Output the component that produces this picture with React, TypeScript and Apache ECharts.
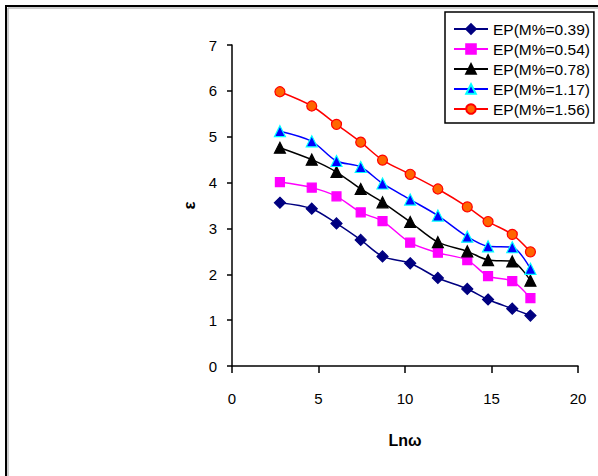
import React, { useEffect, useRef } from "react";
import * as echarts from "echarts";

const xVals = [2.77, 4.61, 6.04, 7.44, 8.7, 10.3, 11.9, 13.6, 14.8, 16.2, 17.25];
const s039 = [3.56, 3.43, 3.11, 2.75, 2.39, 2.24, 1.92, 1.68, 1.45, 1.25, 1.1];
const s054 = [4.01, 3.89, 3.7, 3.35, 3.16, 2.69, 2.47, 2.31, 1.96, 1.85, 1.48];
const s078 = [4.76, 4.5, 4.23, 3.86, 3.57, 3.14, 2.7, 2.5, 2.31, 2.28, 1.86];
const s117 = [5.12, 4.9, 4.47, 4.34, 3.98, 3.63, 3.28, 2.82, 2.61, 2.59, 2.12];
const s156 = [5.98, 5.67, 5.27, 4.88, 4.49, 4.18, 3.86, 3.47, 3.15, 2.87, 2.49];
const names = ["EP(M%=0.39)", "EP(M%=0.54)", "EP(M%=0.78)", "EP(M%=1.17)", "EP(M%=1.56)"];
const xTicks = [0, 5, 10, 15, 20];

const FONT = "'Liberation Sans', Arial, sans-serif";

export default function App() {
  const ref = useRef<HTMLDivElement>(null);
  useEffect(() => {
    const chart = echarts.init(ref.current!, null, { renderer: "svg" });
    const pair = (ys: number[]) => xVals.map((x, i) => [x, ys[i]]);
    const mk = (
      name: string,
      ys: number[],
      lineColor: string,
      symbol: string,
      size: number,
      fill: string,
      border: string
    ) => ({
      name,
      type: "line",
      data: pair(ys),
      smooth: 0.3,
      symbol,
      symbolSize: size,
      lineStyle: { color: lineColor, width: 1.5 },
      itemStyle: { color: fill, borderColor: border, borderWidth: 1.2 },
      z: 3,
    });
    chart.setOption({
      animation: false,
      backgroundColor: "#fff",
      textStyle: { fontFamily: FONT },
      grid: { left: 232, right: 20, top: 45, bottom: 110, containLabel: false },
      xAxis: {
        type: "value",
        min: xTicks[0],
        max: xTicks[xTicks.length - 1],
        interval: 5,
        splitLine: { show: false },
        axisLine: { lineStyle: { color: "#000", width: 1.5 } },
        axisTick: { show: true, inside: false, length: 7, lineStyle: { color: "#000", width: 1.5 } },
        axisLabel: { color: "#000", fontSize: 15, fontFamily: FONT, margin: 25 },
        name: "Lnω",
        nameLocation: "middle",
        nameGap: 66,
        nameTextStyle: { color: "#000", fontSize: 16, fontWeight: "bold", fontFamily: FONT },
      },
      yAxis: {
        type: "value",
        min: 0,
        max: 7,
        interval: 1,
        splitLine: { show: false },
        axisLine: { show: true, lineStyle: { color: "#000", width: 1.5 } },
        axisTick: { show: true, length: 5, lineStyle: { color: "#000", width: 1.5 } },
        axisLabel: { color: "#000", fontSize: 15, fontFamily: FONT, margin: 15 },
        name: "ε",
        nameLocation: "middle",
        nameGap: 30,
        nameRotate: 90,
        nameTextStyle: { color: "#000", fontSize: 17, fontWeight: "bold", fontFamily: FONT },
      },
      legend: {
        orient: "vertical",
        left: 445,
        top: 12,
        padding: [8, 4, 5, 8],
        itemGap: 2,
        itemWidth: 34,
        itemHeight: 12,
        backgroundColor: "#fff",
        borderColor: "#000",
        borderWidth: 1.5,
        textStyle: { color: "#000", fontSize: 15.5, lineHeight: 18, fontFamily: FONT },
        data: names,
      },
      graphic: [
        { type: "rect", shape: { x: 8, y: 8, width: 700, height: 700 }, style: { fill: "none", stroke: "#999", lineWidth: 1 }, silent: true },
        { type: "rect", shape: { x: 6, y: 6, width: 700, height: 700 }, style: { fill: "none", stroke: "#000", lineWidth: 2 }, silent: true },
      ],
      series: [
        mk(names[0], s039, "#000080", "diamond", 11, "#000080", "#000080"),
        mk(names[1], s054, "#FF00FF", "rect", 9, "#FF00FF", "#FF00FF"),
        mk(names[2], s078, "#000000", "triangle", 11, "#000000", "#000000"),
        mk(names[3], s117, "#0000FF", "triangle", 11, "#0000FF", "#00FFFF"),
        mk(names[4], s156, "#FF0000", "circle", 10, "#FF6600", "#FF0000"),
      ],
    });
    return () => chart.dispose();
  }, []);
  return (
    <div
      ref={ref}
      style={{ position: "fixed", left: 0, top: 0, width: 598, height: 476, background: "#fff" }}
    />
  );
}
